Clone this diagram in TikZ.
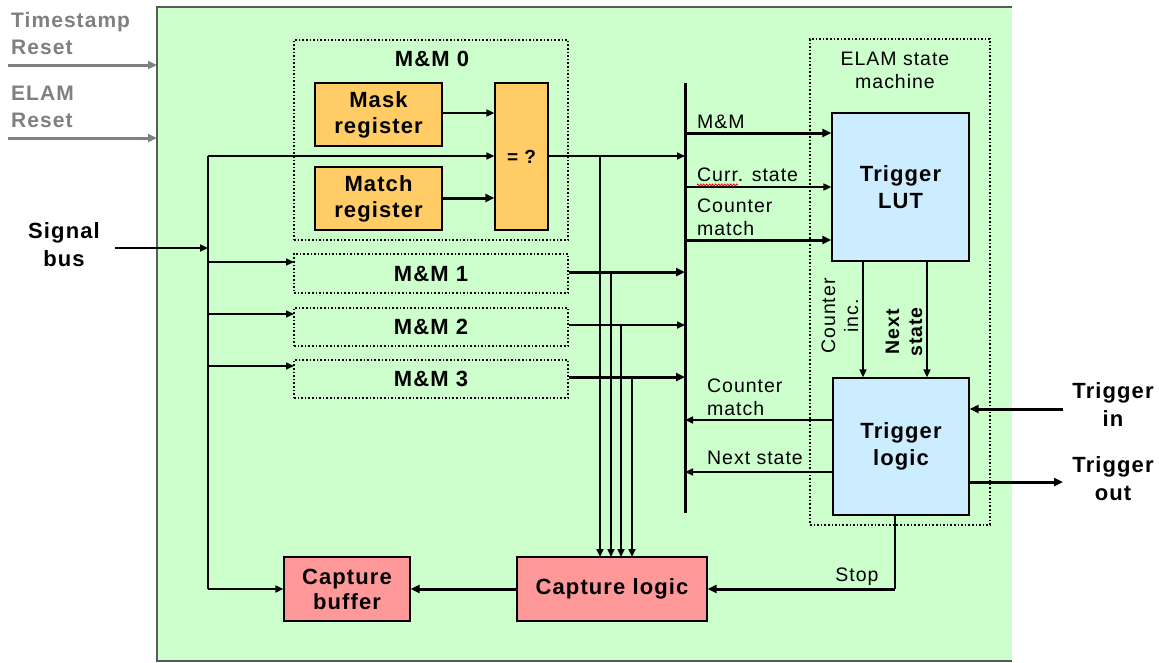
\documentclass[tikz,border=0pt]{standalone}
\usepackage{fontspec}
\setmainfont{Liberation Sans}[LetterSpace=5]
\usetikzlibrary{arrows.meta,decorations.pathmorphing}
\definecolor{bggreen}{HTML}{CCFFCC}
\definecolor{regorange}{HTML}{FFCC66}
\definecolor{lutblue}{HTML}{CCECFF}
\definecolor{cappink}{HTML}{FF9999}
\definecolor{txtgray}{HTML}{808080}
\tikzset{
  arr/.style={line width=1.6pt,-{Triangle[length=8pt,width=7pt]}},
  arrthick/.style={line width=3pt,-{Triangle[length=9pt,width=8pt]}},
  plain/.style={line width=1.6pt},
  reg/.style={draw=black,line width=1.2pt,fill=regorange,inner sep=0pt,align=center,font=\fontsize{22}{26}\selectfont\bfseries},
  dotbox/.style={draw=black,line width=1.6pt,dash pattern=on 1.6pt off 2pt,inner sep=0pt,font=\fontsize{22}{26}\selectfont\bfseries},
  bluebox/.style={draw=black,line width=1.2pt,fill=lutblue,inner sep=0pt,align=center,font=\fontsize{22}{27}\selectfont\bfseries},
  pinkbox/.style={draw=black,line width=1.2pt,fill=cappink,inner sep=0pt,align=center,font=\fontsize{22}{25}\selectfont\bfseries},
  biglbl/.style={inner sep=0pt,align=center,font=\fontsize{22}{28}\selectfont\bfseries},
  smalllbl/.style={inner sep=0pt,align=left,font=\fontsize{19.5}{23}\selectfont},
  graylbl/.style={inner sep=0pt,align=left,text=txtgray,font=\fontsize{21}{27}\selectfont\bfseries},
}
\begin{document}
\begin{tikzpicture}[x=1pt,y=-1pt]
\useasboundingbox (0,0) rectangle (1159,662);
% background box
\fill[bggreen] (157,7) rectangle (1012,661);
\draw[txtgray!70!black,line width=1.6pt] (1012,7) -- (157,7) -- (157,661) -- (1012,661);

% left labels
\node[graylbl,anchor=north west] (tsr) at (11,12) {Timestamp\\Reset};
\node[graylbl,anchor=north west] (elr) at (11,86) {ELAM\\Reset};
\coordinate (tsA) at (8,65); \coordinate (tsB) at (157,65);
\coordinate (elA) at (8,138); \coordinate (elB) at (157,138);
\draw[line width=3pt,draw=txtgray,-{Triangle[length=9pt,width=8pt]},color=txtgray] (tsA) -- (tsB);
\draw[line width=3pt,draw=txtgray,-{Triangle[length=9pt,width=8pt]},color=txtgray] (elA) -- (elB);

\node[biglbl,anchor=north] (sig) at (64,222) {Signal\\bus};

% M&M blocks
\node[dotbox,minimum width=274pt,minimum height=200pt] (mm0) at (431,140) {};
\node[inner sep=0pt,font=\fontsize{22}{26}\selectfont\bfseries] (mm0t) at (432,59) {M\&M 0};
\node[reg,minimum width=127pt,minimum height=63pt] (mask) at (378.5,114.5) {Mask\\register};
\node[reg,minimum width=127pt,minimum height=63pt] (match) at (378.5,198.5) {Match\\register};
\node[reg,minimum width=53pt,minimum height=147pt,font=\fontsize{19}{22}\selectfont\bfseries] (eq) at (521.5,156.5) {= ?};
\node[dotbox,minimum width=274pt,minimum height=39pt] (mm1) at (431,273.5) {M\&M 1};
\node[dotbox,minimum width=274pt,minimum height=38pt] (mm2) at (431,327) {M\&M 2};
\node[dotbox,minimum width=274pt,minimum height=38pt] (mm3) at (431,379) {M\&M 3};

% state machine
\node[dotbox,minimum width=180pt,minimum height=486pt] (elam) at (900,282) {};
\node[smalllbl,align=center] (elamt) at (895,70) {ELAM state\\machine};
\node[bluebox,minimum width=137pt,minimum height=148pt] (lut) at (900.5,187) {Trigger\\LUT};
\node[bluebox,minimum width=136pt,minimum height=137pt] (tl) at (901,446.5) {Trigger\\logic};

% capture
\node[pinkbox,minimum width=190pt,minimum height=64pt] (cl) at (612,589) {Capture logic};
\node[pinkbox,minimum width=126pt,minimum height=64pt] (cb) at (347,589) {Capture\\buffer};

% bus
\coordinate (busT) at (685,83); \coordinate (busB) at (685,513);
\draw[line width=3pt] (busT) -- (busB);

% signal bus distribution
\coordinate (sigA) at (115,248); \coordinate (sigB) at (208,248);
\coordinate (sbT) at (208,156); \coordinate (sbB) at (208,589);
\draw[arr] (sigA) -- (sigB);
\draw[plain] (sbT) -- (sbB);
\draw[arr] (sbT) -- (eq.west |- sbT);
\draw[arr] (208,262) -- (294,262);
\draw[arr] (208,314) -- (294,314);
\draw[arr] (208,366) -- (294,366);
\draw[arr] (sbB) -- (cb.west);

% inside M&M0
\draw[arr] (mask.east |- 0,113) -- (eq.west |- 0,113);
\draw[arrthick] (match.east |- 0,198) -- (eq.west |- 0,198);

% M&M outputs to bus
\coordinate (o0) at (548,156);
\draw[arr] (o0) -- (busT |- o0);
\draw[arrthick] (mm1.east |- 0,272) -- (busT |- 0,272);
\draw[arr] (mm2.east |- 0,325) -- (busT |- 0,325);
\draw[arrthick] (mm3.east |- 0,377) -- (busT |- 0,377);

% verticals to capture logic
\draw[line width=2.6pt,-{Triangle[length=8pt,width=7pt]}] (600,156) -- (600,557);
\draw[line width=1.6pt,-{Triangle[length=8pt,width=7pt]}] (611,272) -- (611,557);
\draw[line width=1.6pt,-{Triangle[length=8pt,width=7pt]}] (621,325) -- (621,557);
\draw[line width=2.6pt,-{Triangle[length=8pt,width=7pt]}] (632,377) -- (632,557);

% bus to LUT
\draw[arrthick] (busT |- 0,133) -- (lut.west |- 0,133);
\draw[arr] (busT |- 0,187) -- (lut.west |- 0,187);
\draw[arrthick] (busT |- 0,240) -- (lut.west |- 0,240);
\node[smalllbl,anchor=base west] (lmm) at (697,128) {M\&M};
\node[smalllbl,anchor=base west] (lcs) at (697,181) {Curr. state};
\draw[red,line width=0.8pt,decorate,decoration={zigzag,segment length=3pt,amplitude=1pt}] (697,185) -- (738,185);
\node[smalllbl,anchor=south west] (lcm) at (697,236) {Counter\\match};

% LUT to trigger logic
\draw[arr] (lut.south -| 863,0) -- (tl.north -| 863,0);
\draw[arr] (lut.south -| 927,0) -- (tl.north -| 927,0);
\node[smalllbl,align=center,rotate=90] (lci) at (840,316) {Counter\\inc.};
\node[smalllbl,align=center,rotate=90,font=\fontsize{19.5}{23}\selectfont\bfseries] (lns) at (904,332) {Next\\state};

% trigger logic back to bus
\draw[arr] (tl.west |- 0,420) -- (busT |- 0,420);
\draw[arr] (tl.west |- 0,472) -- (busT |- 0,472);
\node[smalllbl,anchor=south west] (lcm2) at (707,416) {Counter\\match};
\node[smalllbl,anchor=base west] (lns2) at (707,464) {Next state};

% trigger in/out
\coordinate (tinA) at (1063,409); \coordinate (toutB) at (1063,482);
\draw[arrthick] (tinA) -- (tl.east |- tinA);
\draw[arrthick] (tl.east |- toutB) -- (toutB);
\node[biglbl] (tin) at (1113,405) {Trigger\\in};
\node[biglbl] (tout) at (1113,479) {Trigger\\out};

% stop
\coordinate (stT) at (895,515); \coordinate (stC) at (895,589);
\draw[plain] (stT) -- (stC);
\draw[arrthick] (stC) -- (cl.east);
\node[smalllbl,anchor=base] (stop) at (857,581) {Stop};

% capture logic to buffer
\draw[arrthick] (cl.west) -- (cb.east);
\end{tikzpicture}
\end{document}
